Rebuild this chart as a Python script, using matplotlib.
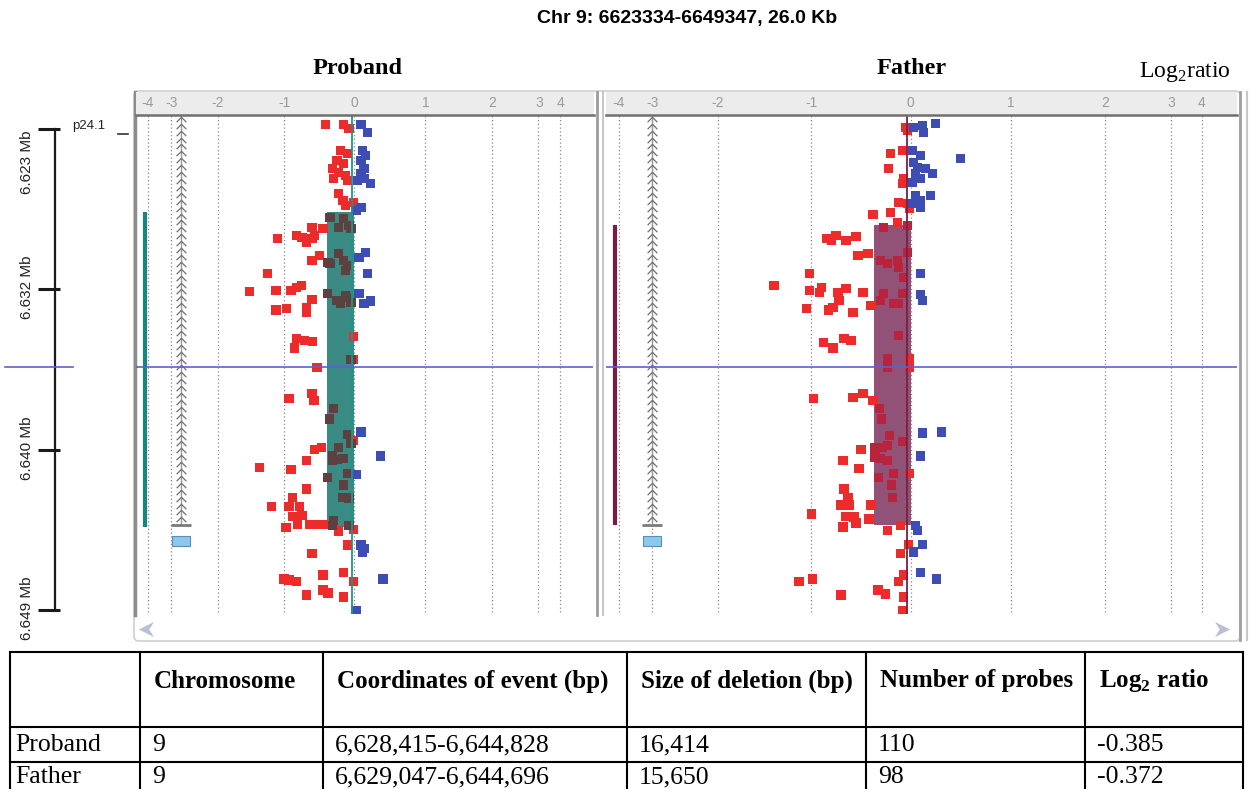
import numpy as np
import matplotlib
matplotlib.use('Agg')
import matplotlib.pyplot as plt
from matplotlib.patches import Rectangle, FancyBboxPatch
from matplotlib.path import Path

plt.rcParams['font.family'] = ['Liberation Sans', 'DejaVu Sans']
plt.rcParams['mathtext.fontset'] = 'custom'
plt.rcParams['mathtext.rm'] = 'Liberation Serif'
plt.rcParams['mathtext.bf'] = 'Liberation Serif:bold'

W, H = 1252, 789

title = 'Chr 9: 6623334-6649347, 26.0 Kb'
view_start, view_end = 6623.334, 6649.347   # kb
cursor_pos = 6636.49
lr_ticks = [-4, -3, -2, -1, 0, 1, 2, 3, 4]

# left ruler (kb)
ruler_ticks = [6624.04, 6632.43, 6640.82, 6649.15]
ruler_labels = ['6.623 Mb', '6.632 Mb', '6.640 Mb', '6.649 Mb']
ruler_label_pos = [6625.81, 6632.32, 6640.71, 6649.04]
band_label = 'p24.1'

samples = ['Proband', 'Father']
del_start = [6628.415, 6629.047]
del_end = [6644.828, 6644.696]
del_lr = [-0.385, -0.372]
center_lr = [-0.03, -0.04]
gene_x = [-2.79, -3.0]
gene_end = 6644.72
exon_pos = 6645.55

# probe positions (kb) and log2 ratios
proband_pos = [6623.83, 6623.83, 6624.04, 6625.18, 6625.34, 6625.70, 6625.86, 6626.12, 6626.33, 6626.49,
               6626.64, 6626.75, 6627.42, 6627.78, 6628.05, 6627.89, 6629.19, 6629.24, 6629.61, 6629.71,
               6629.76, 6629.97, 6629.76, 6629.61, 6630.65, 6630.91, 6631.01, 6631.59, 6632.53, 6632.47,
               6632.47, 6632.32, 6632.21, 6632.94, 6633.36, 6633.51, 6633.41, 6633.62, 6634.97, 6635.08,
               6635.13, 6635.49, 6634.87, 6636.07,
               6628.67, 6628.72, 6629.19, 6629.09, 6629.24, 6630.55, 6630.91, 6631.17, 6631.07, 6631.43,
               6632.63, 6632.99, 6632.84, 6633.15, 6633.10, 6632.73, 6636.07,
               6623.83, 6624.24, 6625.18, 6625.44, 6625.70, 6626.12, 6626.38, 6626.64, 6626.90, 6626.75,
               6628.15, 6628.31, 6630.49, 6630.75, 6631.59, 6632.63, 6633.04, 6633.15,
               6636.49, 6638.10, 6637.84, 6638.21, 6640.29, 6640.76, 6640.66, 6641.33, 6641.70, 6641.80,
               6642.84, 6643.26, 6643.73, 6643.73, 6643.73, 6644.25, 6644.20, 6644.83, 6644.67, 6644.67,
               6644.67, 6644.67, 6645.03, 6644.93, 6645.76, 6646.18, 6647.53, 6647.58, 6647.64, 6647.32,
               6647.17, 6647.64, 6648.10, 6648.26, 6648.36, 6648.47,
               6638.62, 6639.19, 6639.98, 6640.45, 6640.66, 6641.07, 6641.28, 6641.23, 6641.33, 6642.22,
               6642.01, 6642.63, 6643.26, 6643.31, 6644.46, 6644.72, 6644.72,
               6639.87, 6641.12, 6642.06, 6645.76, 6645.92, 6646.13, 6647.53, 6649.20]
proband_lr = [-0.41, -0.15, -0.07, -0.19, -0.09, -0.24, -0.15, -0.31, -0.22, -0.12,
              -0.29, -0.09, -0.22, -0.16, -0.12, -0.01, -0.60, -0.44, -0.82, -0.74,
              -0.60, -0.68, -1.10, -0.56, -0.49, -0.60, -0.37, -1.25, -1.52, -1.12,
              -0.90, -0.82, -0.75, -0.60, -0.68, -1.12, -0.96, -0.68, -0.82, -0.71,
              -0.59, -0.85, -0.01, -0.01,
              -0.34, -0.15, -0.22, -0.07, -0.04, -0.22, -0.15, -0.09, -0.34, -0.12,
              -0.38, -0.24, -0.09, -0.19, -0.04, -0.12, -0.04,
              0.10, 0.19, 0.12, 0.16, 0.10, 0.14, 0.10, 0.14, 0.23, 0.05,
              0.10, 0.03, 0.16, 0.07, 0.19, 0.07, 0.23, 0.14,
              -0.53, -0.93, -0.60, -0.57, -0.01, -0.56, -0.46, -0.68, -1.37, -0.90,
              -0.68, -0.88, -1.19, -0.93, -0.78, -0.88, -0.74, -0.97, -0.81, -0.63,
              -0.53, -0.44, -0.22, -0.01, -0.09, -0.60, -1.00, -0.93, -0.82, -0.44,
              -0.15, -0.01, -0.44, -0.37, -0.68, -0.15,
              -0.29, -0.35, -0.09, -0.04, -0.22, -0.31, -0.24, -0.16, -0.31, -0.38,
              -0.09, -0.15, -0.16, -0.07, -0.29, -0.31, -0.07,
              0.10, 0.37, 0.03, 0.10, 0.14, 0.12, 0.41, 0.03]

father_pos = [6623.98, 6624.14, 6625.34, 6625.18, 6626.12, 6626.64, 6626.90, 6627.89, 6627.94, 6628.20,
              6628.41, 6628.51, 6628.93, 6629.19, 6629.09, 6629.76, 6629.61, 6629.87, 6629.66, 6629.87,
              6630.65, 6630.55, 6631.59, 6632.21, 6632.47, 6632.32, 6632.58, 6632.58, 6632.37, 6632.99,
              6632.58, 6633.41, 6633.51, 6633.36, 6633.62, 6633.26, 6635.18, 6635.49, 6634.97, 6635.08,
              6636.02,
              6630.91, 6631.07, 6630.91, 6631.28, 6630.49, 6631.80, 6632.63, 6632.99, 6633.15, 6632.63,
              6633.15, 6634.82, 6636.02,
              6623.98, 6623.88, 6623.78, 6624.24, 6625.18, 6625.44, 6625.60, 6625.81, 6626.07, 6626.12,
              6626.38, 6626.38, 6626.64, 6626.85, 6627.52, 6627.52, 6627.78, 6627.94, 6628.15, 6631.59,
              6632.68, 6632.99,
              6638.10, 6638.05, 6637.84, 6638.21, 6642.01, 6640.76, 6641.33, 6641.75, 6642.84, 6643.26,
              6643.67, 6643.67, 6644.14, 6644.25, 6644.30, 6643.67, 6644.40, 6644.82, 6644.61, 6644.98,
              6644.72, 6645.71, 6646.18, 6647.32, 6647.64, 6647.64, 6647.53, 6648.10, 6648.31, 6648.36,
              6648.47, 6649.20, 6636.49,
              6636.49, 6638.62, 6639.19, 6640.03, 6640.34, 6640.66, 6640.66, 6640.55, 6641.23, 6641.33,
              6642.01, 6642.22, 6642.63, 6643.26, 6641.17,
              6639.92, 6639.87, 6641.12, 6644.72, 6644.98, 6645.71, 6646.12, 6647.17, 6647.53]
father_lr = [-0.05, -0.03, -0.20, -0.08, -0.22, -0.07, -0.08, -0.12, -0.03, -0.01,
             -0.20, -0.38, -0.13, -0.27, -0.03, -0.85, -0.75, -0.65, -0.55, -0.80,
             -0.53, -0.43, -1.02, -1.40, -1.02, -0.90, -0.92, -0.73, -0.65, -0.72,
             -0.48, -1.05, -0.83, -0.78, -0.58, -0.40, -0.88, -0.78, -0.67, -0.60,
             -0.01,
             -0.30, -0.23, -0.13, -0.12, -0.03, -0.07, -0.27, -0.30, -0.17, -0.08,
             -0.12, -0.12, -0.23,
             0.03, 0.12, 0.25, 0.13, 0.02, 0.10, 0.50, 0.03, 0.07, 0.15,
             0.05, 0.22, 0.10, 0.02, 0.20, 0.05, 0.10, 0.02, 0.10, 0.10,
             0.10, 0.12,
             -0.98, -0.58, -0.48, -0.38, -0.01, -0.50, -0.68, -0.52, -0.67, -0.63,
             -0.70, -0.62, -1.00, -0.65, -0.57, -0.40, -0.42, -0.68, -0.55, -0.23,
             -0.10, -0.02, -0.10, -0.07, -0.12, -1.13, -0.99, -0.33, -0.25, -0.70,
             -0.07, -0.08, -0.01,
             -0.23, -0.31, -0.29, -0.21, -0.08, -0.36, -0.28, -0.23, -0.30, -0.23,
             -0.17, -0.32, -0.19, -0.18, -0.36,
             0.12, 0.31, 0.10, 0.05, 0.07, 0.12, 0.03, 0.10, 0.26]

table_header = ['', 'Chromosome', 'Coordinates of event (bp)', 'Size of deletion (bp)',
                'Number of probes', r'Log$_{\mathbf{2}}$ ratio']
table_rows = [['Proband', '9', '6,628,415-6,644,828', '16,414', '110', '-0.385'],
              ['Father', '9', '6,629,047-6,644,696', '15,650', '98', '-0.372']]

RED, BLUE = '#ee2b2b', '#3d4db3'
rect_col = ['#3b8b85', '#925278']
dark_col = ['#5d4141', '#b8233e']
line_col = ['#1f968a', '#7a1f44']
bar_col = ['#16877d', '#7b1b42']
CURSOR = '#5a62c8'

# compressed log2 axis of the viewer
KV = [-10, -4, -3, -2, -1, 0, 1, 2, 3, 4, 10]
KT = [-0.342, 0, 0.057, 0.169, 0.330, 0.5, 0.672, 0.834, 0.947, 1.0, 1.318]


def fwd(v):
    return np.interp(v, KV, KT)


def inv(t):
    return np.interp(t, KT, KV)


fig = plt.figure(figsize=(W / 100, H / 100), dpi=100)


def box(x0, y0, x1, y1):
    return fig.add_axes([x0 / W, 1 - y1 / H, (x1 - x0) / W, (y1 - y0) / H])


bg = box(0, 0, W, H)
bg.set_xlim(0, W)
bg.set_ylim(H, 0)
bg.axis('off')

bg.add_patch(FancyBboxPatch((134, 91), 1106, 550, boxstyle='round,pad=0,rounding_size=5',
                            fc='white', ec='#cfcfcf', lw=1.2))
bg.plot([135, 135], [92, 615], color='#8c8c8c', lw=2.5)
bg.plot([597, 597], [92, 615], color='#9c9c9c', lw=2)
bg.plot([603, 603], [92, 615], color='#c8c8c8', lw=1.5)
bg.plot([1240, 1240], [92, 640], color='#a0a0a0', lw=2)
bg.plot([1247, 1247], [92, 640], color='#c8c8c8', lw=1.5)

arrow = Path([(1, 1), (-1, 0), (1, -1), (0.35, 0), (1, 1)],
             [Path.MOVETO, Path.LINETO, Path.LINETO, Path.LINETO, Path.CLOSEPOLY])
arrow_r = Path([(-1, 1), (1, 0), (-1, -1), (-0.35, 0), (-1, 1)],
               [Path.MOVETO, Path.LINETO, Path.LINETO, Path.LINETO, Path.CLOSEPOLY])
bg.plot(146, 629, marker=arrow, ms=11, color='#b9c0d2', mew=0)
bg.plot(1222, 629, marker=arrow_r, ms=11, color='#b9c0d2', mew=0)

bg.text(687, 18, title, ha='center', va='center', fontsize=14, fontweight='bold')
bg.text(358, 68, samples[0], ha='center', va='center', fontsize=17.5, fontweight='bold',
        family='Liberation Serif')
bg.text(912, 68, samples[1], ha='center', va='center', fontsize=17.5, fontweight='bold',
        family='Liberation Serif')
bg.text(1185, 72, r'Log$_2$ratio', ha='center', va='center', fontsize=17, family='Liberation Serif')

chev = Path([(-1, -0.55), (0, 0.45), (1, -0.55)], [Path.MOVETO, Path.LINETO, Path.LINETO])
exon_mk = Path([(-1, -0.5), (1, -0.5), (1, 0.5), (-1, 0.5), (-1, -0.5)],
               [Path.MOVETO, Path.LINETO, Path.LINETO, Path.LINETO, Path.CLOSEPOLY])

panel_px = [(136, 593, 148, 560), (606, 1237, 619, 1202)]
data = [(proband_pos, proband_lr), (father_pos, father_lr)]

for i in range(2):
    x0, x1, a, b = panel_px[i]
    pos, lr = data[i]
    ax = box(x0, 115, x1, 614)
    ax.set_xscale('function', functions=(fwd, inv))
    ax.set_xlim(inv((x0 - a) / (b - a)), inv((x1 - a) / (b - a)))
    ax.set_ylim(view_end, view_start)
    ax.axis('off')

    for v in lr_ticks:
        ax.axvline(v, ymin=0.005, color='#8a8a8a', lw=0.9, ls=(0, (1, 2)), zorder=1)

    gx = gene_x[i]
    ax.plot([gx, gx], [view_start, gene_end], color='#9a9a9a', lw=1, zorder=2)
    ys = np.arange(view_start + 0.2, gene_end - 0.2, 0.36)
    ax.plot(np.full_like(ys, gx), ys, ls='none', marker=chev, ms=7, mfc='none',
            mec='#6f6f6f', mew=0.9, zorder=2)
    ax.plot(gx, gene_end, marker='_', ms=15, mew=2, color='#7a7a7a', zorder=2)
    ax.plot(gx, exon_pos, marker=exon_mk, ms=13, mfc='#8cc8ee', mec='#5d8fb5', mew=0.8, zorder=2)

    ax.plot([-4.13, -4.13], [del_start[i], del_end[i]], color=bar_col[i], lw=3,
            solid_capstyle='butt', zorder=2)
    ax.add_patch(Rectangle((del_lr[i], del_start[i]), -del_lr[i], del_end[i] - del_start[i],
                           fc=rect_col[i], ec='none', zorder=2))

    cols = []
    for p, v in zip(pos, lr):
        if v >= 0:
            cols.append(BLUE)
        elif del_start[i] <= p <= del_end[i] and del_lr[i] - 0.005 <= v < -0.02:
            cols.append(dark_col[i])
        else:
            cols.append(RED)
    ax.scatter(lr, pos, s=46, c=cols, marker='s', lw=0, zorder=3)

    ax.plot([center_lr[i]] * 2, [view_start, view_end], color=line_col[i], lw=1.3, zorder=4)
    ax.axhline(cursor_pos, color=CURSOR, lw=1.2, zorder=5)

    hx = box(x0, 92, x1 + (1 if i == 0 else 0), 115)
    hx.set_xscale('function', functions=(fwd, inv))
    hx.set_xlim(ax.get_xlim())
    hx.set_ylim(0, 1)
    hx.set_facecolor('#ececec')
    hx.set_xticks([])
    hx.set_yticks([])
    for s in ['top', 'left', 'right']:
        hx.spines[s].set_visible(False)
    hx.spines['bottom'].set_color('#6f6f6f')
    hx.spines['bottom'].set_linewidth(1.8)
    for v in lr_ticks:
        hx.text(v, 0.52, str(v), ha='center', va='center', fontsize=10, color='#9a9a9a')

# chromosome ruler
rx = box(0, 115, 135, 614)
rx.set_xlim(0, 135)
rx.set_ylim(view_end, view_start)
rx.axis('off')
rx.plot([55, 55], [ruler_ticks[0], ruler_ticks[-1]], color='#1a1a1a', lw=1.6)
for t in ruler_ticks:
    rx.plot([38, 60], [t, t], color='#1a1a1a', lw=2.2, solid_capstyle='butt')
for lp, lab in zip(ruler_label_pos, ruler_labels):
    rx.text(27, lp, lab, rotation=90, ha='center', va='center', fontsize=11, color='#222222')
rx.plot([5, 73], [cursor_pos] * 2, color=CURSOR, lw=1.2)
rx.text(72, ruler_ticks[0] - 0.12, band_label, fontsize=9.5, va='center', color='#222222')
rx.plot([118, 128], [6624.3, 6624.3], color='#333333', lw=1.2)

# table
col_x = [10, 140, 323, 627, 866, 1085, 1243]
row_y = [652, 727, 762, 789]
for yy in row_y[:3]:
    bg.plot([col_x[0], col_x[-1]], [yy, yy], color='black', lw=1.5)
for xx in col_x:
    bg.plot([xx, xx], [row_y[0], row_y[-1]], color='black', lw=1.5)
for j, txt in enumerate(table_header):
    bg.text(col_x[j] + 14, 681, txt, ha='left', va='center', fontsize=18, fontweight='bold',
            family='Liberation Serif')
for r, row in enumerate(table_rows):
    yc = [745, 777][r]
    for j, txt in enumerate(row):
        off = 5 if j == 0 else 12
        bg.text(col_x[j] + off, yc, txt, ha='left', va='center', fontsize=18.5,
                family='Liberation Serif')

fig.savefig('out.png', dpi=100)
